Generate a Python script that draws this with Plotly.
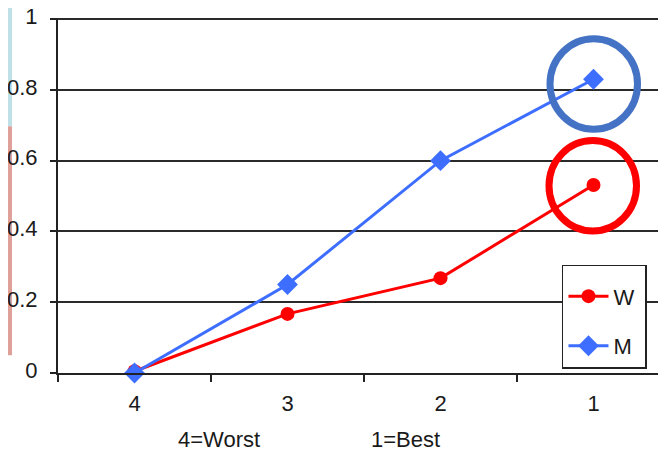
import plotly.graph_objects as go

categories = ["4", "3", "2", "1"]
w_values = [0.005, 0.167, 0.268, 0.531]
m_values = [0.0, 0.25, 0.60, 0.83]
y_ticks = [0, 0.2, 0.4, 0.6, 0.8, 1]
y_tick_labels = ["0", "0.2", "0.4", "0.6", "0.8", "1"]

FONT = "Liberation Sans Narrow, Arial Narrow, Liberation Sans, Arial, sans-serif"

fig = go.Figure()
fig.add_trace(go.Scatter(
    x=categories, y=w_values, name="W\u00a0", mode="lines+markers", legendgroup="w",
    line=dict(color="#FF0000", width=3),
    marker=dict(symbol="circle", size=14, color="#FF0000"),
    cliponaxis=False,
))
fig.add_trace(go.Scatter(
    x=categories, y=m_values, name="M\u00a0", mode="lines+markers", legendgroup="m",
    line=dict(color="#3D6EFF", width=3),
    marker=dict(symbol="diamond", size=16, color="#3D6EFF"),
    cliponaxis=False,
))

shapes = []
# highlight circles around the "1" points
shapes.append(dict(type="circle", xref="x", yref="y", xsizemode="pixel", ysizemode="pixel",
                   xanchor=3, yanchor=m_values[3], x0=-43.5, x1=44, y0=-50, y1=40.5,
                   line=dict(color="#4472C4", width=7)))
shapes.append(dict(type="circle", xref="x", yref="y", xsizemode="pixel", ysizemode="pixel",
                   xanchor=3, yanchor=w_values[3], x0=-44.5, x1=43, y0=-46, y1=44.5,
                   line=dict(color="#FF0000", width=7)))
# slide edge strips on the far left
shapes.append(dict(type="rect", xref="paper", yref="paper", x0=-50/612, x1=-46/612, y0=0.695, y1=1.03,
                   fillcolor="#BFE0E6", line=dict(width=0), layer="below"))
shapes.append(dict(type="rect", xref="paper", yref="paper", x0=-50/612, x1=-46/612, y0=0.05, y1=0.695,
                   fillcolor="#E0A09A", line=dict(width=0), layer="below"))

fig.update_layout(
    width=666, height=453,
    margin=dict(l=50, r=4, t=10, b=88, autoexpand=False),
    paper_bgcolor="white", plot_bgcolor="white",
    font=dict(family=FONT, size=22, color="#1a1a1a"),
    showlegend=True,
    legend=dict(x=0.8235, y=0.305, xanchor="left", yanchor="top",
                bgcolor="white", bordercolor="#222222", borderwidth=1.5,
                title=dict(text=" ", font=dict(size=7)),
                font=dict(size=22), itemwidth=40, tracegroupgap=18),
    shapes=shapes,
    xaxis=dict(type="category", range=[-0.5, 3.5], showgrid=False, automargin=False,
               showline=True, linecolor="#222222", linewidth=2,
               ticks="outside", tickson="boundaries", ticklen=7, tickcolor="#222222", tickwidth=2,
               tickfont=dict(size=22), ticklabelstandoff=10, zeroline=False),
    yaxis=dict(range=[0, 1.003], tickvals=y_ticks, ticktext=y_tick_labels, automargin=False,
               showgrid=True, gridcolor="#2a2a2a", gridwidth=2,
               showline=True, linecolor="#222222", linewidth=2,
               ticks="outside", ticklen=6, tickcolor="#222222", tickwidth=2,
               tickfont=dict(size=22), ticklabelstandoff=8, ticklabelshift=-3,
               ticklabeloverflow="allow", zeroline=False),
    annotations=[
        dict(text="4=Worst", xref="paper", yref="paper", x=0.263, y=-0.188, showarrow=False,
             font=dict(size=22), xanchor="center", yanchor="middle"),
        dict(text="1=Best", xref="paper", yref="paper", x=0.567, y=-0.188, showarrow=False,
             font=dict(size=22), xanchor="center", yanchor="middle"),
    ],
)

fig.write_html("out.html")
